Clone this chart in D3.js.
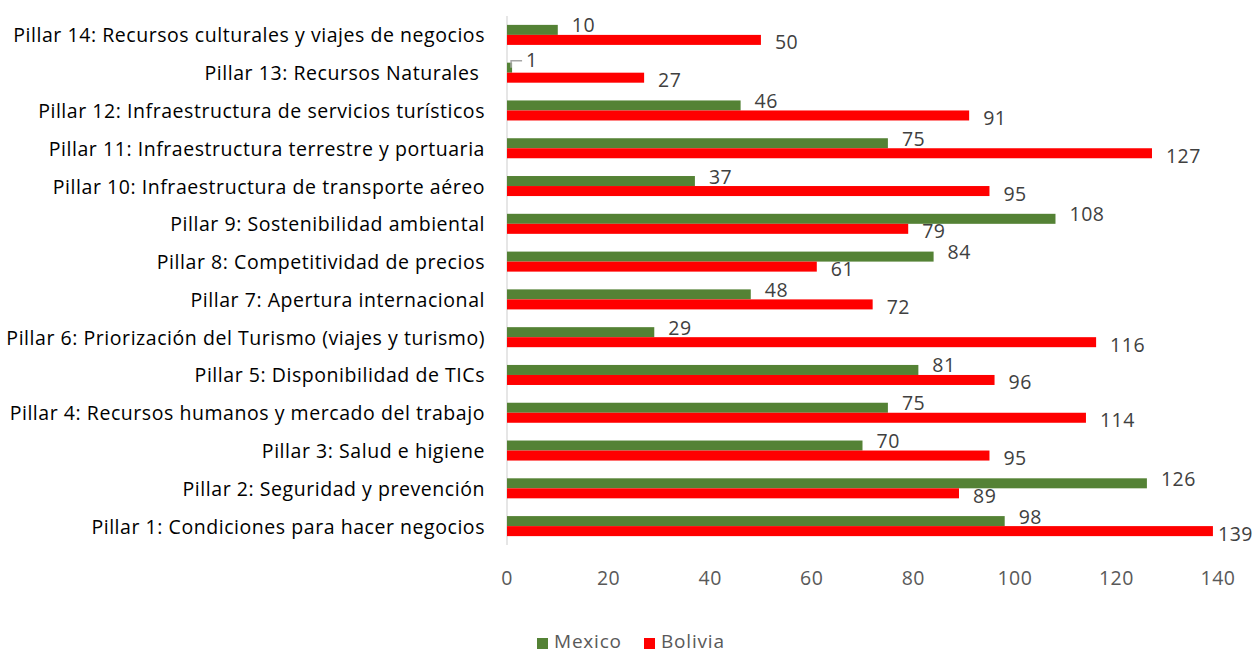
<!DOCTYPE html>
<html>
<head>
<meta charset="utf-8">
<script src="https://cdn.jsdelivr.net/npm/d3@7"></script>
<style>
  html, body { margin: 0; padding: 0; background: #fff; }
  svg { display: block; }
  text { font-family: "Open Sans", Lato, sans-serif; }
</style>
</head>
<body>
<svg id="chart" width="1257" height="653"></svg>
<script>
const categories = [
  "Pillar 1: Condiciones para hacer negocios",
  "Pillar 2: Seguridad y prevención",
  "Pillar 3: Salud e higiene",
  "Pillar 4: Recursos humanos y mercado del trabajo",
  "Pillar 5: Disponibilidad de TICs",
  "Pillar 6: Priorización del Turismo (viajes y turismo)",
  "Pillar 7: Apertura internacional",
  "Pillar 8: Competitividad de precios",
  "Pillar 9: Sostenibilidad ambiental",
  "Pillar 10: Infraestructura de transporte aéreo",
  "Pillar 11: Infraestructura terrestre y portuaria",
  "Pillar 12: Infraestructura de servicios turísticos",
  "Pillar 13: Recursos Naturales ",
  "Pillar 14: Recursos culturales y viajes de negocios"
];
const mexico  = [98, 126, 70, 75, 81, 29, 48, 84, 108, 37, 75, 46, 1, 10];
const bolivia = [139, 89, 95, 114, 96, 116, 72, 61, 79, 95, 127, 91, 27, 50];
const seriesNames = ["Mexico", "Bolivia"];
const xTicks = [0, 20, 40, 60, 80, 100, 120, 140];

const colors = { Mexico: "#548235", Bolivia: "#FF0000" };
const svg = d3.select("#chart");
const FS = 19.5;

const x = d3.scaleLinear().domain([0, 140]).range([507, 1218]);
const y = d3.scaleBand()
  .domain(categories.slice().reverse())
  .range([16, 545])
  .paddingInner(0.47)
  .paddingOuter(0.235);
const ySub = d3.scaleBand().domain(seriesNames).range([0, y.bandwidth()]);

const rows = categories.map((c, i) => ({ cat: c, Mexico: mexico[i], Bolivia: bolivia[i] }));

// axis line (category axis)
svg.append("line")
  .attr("x1", x(0)).attr("x2", x(0))
  .attr("y1", 16).attr("y2", 545)
  .attr("stroke", "#d9d9d9").attr("stroke-width", 1.3);

// category labels
svg.append("g").selectAll("text").data(categories).join("text")
  .attr("x", 485)
  .attr("y", d => y(d) + y.bandwidth() / 2)
  .attr("text-anchor", "end")
  .attr("dominant-baseline", "central")
  .style("white-space", "pre")
  .style("letter-spacing", "0.55px")
  .attr("font-size", FS)
  .attr("fill", "#000")
  .text(d => d);

// bars
const g = svg.append("g");
seriesNames.forEach(s => {
  g.append("g").selectAll("rect").data(rows).join("rect")
    .attr("x", x(0))
    .attr("y", d => y(d.cat) + ySub(s))
    .attr("width", d => x(d[s]) - x(0))
    .attr("height", ySub.bandwidth())
    .attr("fill", colors[s]);
});

// data labels
const labelOffset = { Mexico: -5, Bolivia: 2 };
seriesNames.forEach(s => {
  const lg = svg.append("g");
  lg.selectAll("text").data(rows).join("text")
    .attr("x", d => x(d[s]) + 14)
    .attr("y", d => y(d.cat) + ySub(s) + ySub.bandwidth() / 2 + labelOffset[s] + (x(d[s]) - x(0) < 10 ? -3 : 0))
    .attr("dominant-baseline", "central")
    .style("letter-spacing", "0.5px")
    .attr("font-size", FS)
    .attr("fill", "#404040")
    .text(d => d[s])
    .each(function () {
      const w = this.getComputedTextLength();
      const cx = +this.getAttribute("x");
      if (cx + w > 1253) this.setAttribute("x", 1253 - w);
    });
  // leader line for very short bars
  lg.selectAll("path").data(rows.filter(d => x(d[s]) - x(0) < 10)).join("path")
    .attr("d", d => {
      const bx = x(d[s]) - 1;
      const by = y(d.cat) + ySub(s) + ySub.bandwidth() / 2;
      const ly = by - 7;
      return `M${bx},${by} L${bx},${ly} L${bx + 11},${ly}`;
    })
    .attr("fill", "none").attr("stroke", "#a6a6a6").attr("stroke-width", 1.5);
});

// x axis tick labels
svg.append("g").selectAll("text").data(xTicks).join("text")
  .attr("x", d => x(d))
  .attr("y", 577)
  .attr("text-anchor", "middle")
  .attr("dominant-baseline", "central")
  .style("letter-spacing", "0.5px")
  .attr("font-size", FS)
  .attr("fill", "#595959")
  .text(d => d);

// legend
const legend = svg.append("g");
const legendItems = [{ name: "Mexico", x: 537 }, { name: "Bolivia", x: 644 }];
legendItems.forEach(it => {
  legend.append("rect")
    .attr("x", it.x).attr("y", 638)
    .attr("width", 11).attr("height", 11)
    .attr("fill", colors[it.name]);
  legend.append("text")
    .attr("x", it.x + 17).attr("y", 641)
    .attr("dominant-baseline", "central")
    .style("letter-spacing", "0.8px")
    .attr("font-size", 19)
    .attr("fill", "#595959")
    .text(it.name);
});
</script>
</body>
</html>
